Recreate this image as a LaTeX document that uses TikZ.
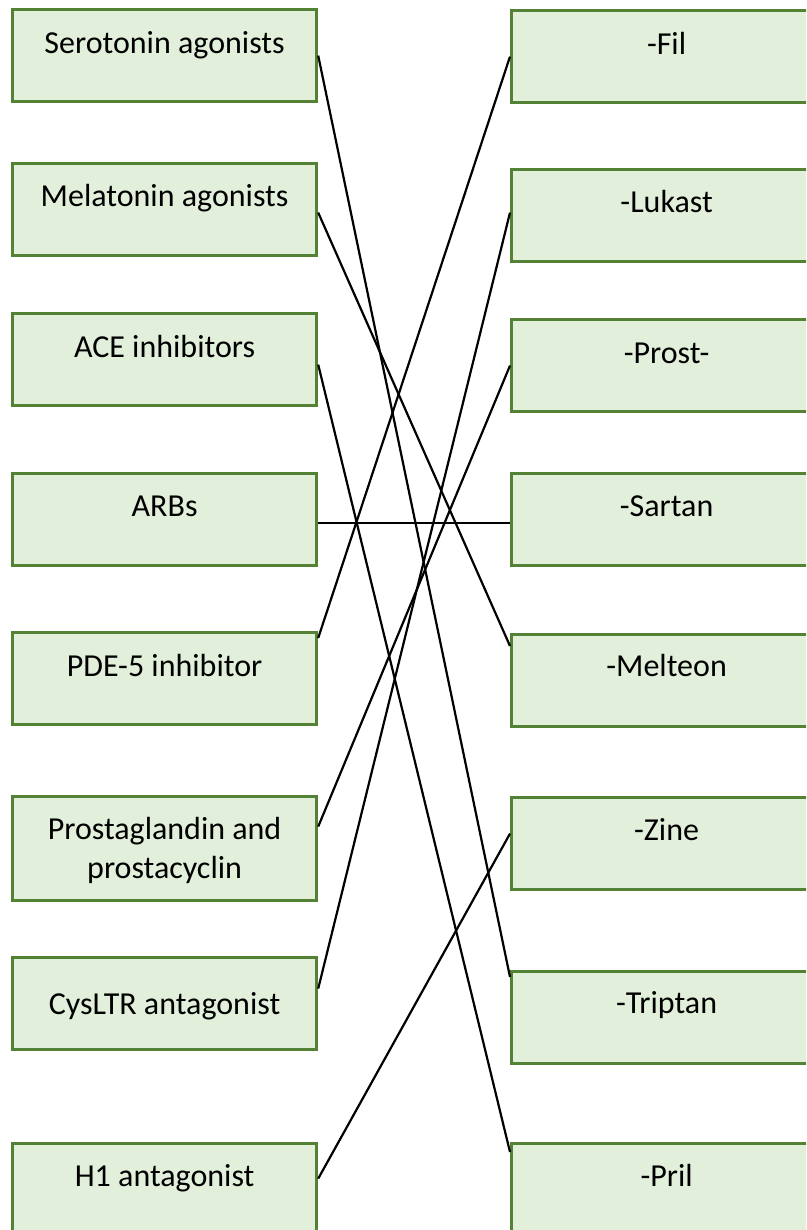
\documentclass[tikz,border=0pt]{standalone}
\usepackage{fontspec}
\setmainfont{Carlito}
\usepackage{xcolor}
\definecolor{boxfill}{RGB}{226,239,218}
\definecolor{boxline}{RGB}{84,130,53}
\tikzset{
	drug/.style={rectangle,draw=boxline,fill=boxfill,line width=3.2pt,minimum width=304pt,minimum height=92pt,anchor=north west,inner sep=0pt},
	stem/.style={drug,minimum width=310pt},
	lbl/.style={anchor=base,inner sep=0pt,font=\fontsize{32}{39}\selectfont,align=center},
	link/.style={line width=2.2pt,black}
}

\begin{document}
\begin{tikzpicture}[x=1pt,y=-1pt]
				\clip (0,0) rectangle (806,1230);
				\node(ser) at (11,8)[drug]{};
				\node(mel) at (11,162)[drug]{};
				\node(ace) at (11,312)[drug]{};
				\node(arb) at (11,472)[drug]{};
				\node(pde) at (11,631)[drug]{};
				\node(pgl) at (11,795)[drug,minimum height=104pt]{};
				\node(cys) at (11,956)[drug]{};
				\node(hist) at (11,1142)[drug]{};
				\node(fil) at (510,9)[stem]{};
				\node(luk) at (510,168)[stem]{};
				\node(pro) at (510,318)[stem]{};
				\node(sar) at (510,472)[stem]{};
				\node(mlt) at (510,633)[stem]{};
				\node(zin) at (510,796)[stem]{};
				\node(tri) at (510,970)[stem]{};
				\node(pri) at (510,1142)[stem]{};
				
				\node(sert) at ([yshift=-46pt]ser.north)[lbl]{Serotonin agonists};
				\node(melt) at ([yshift=-45pt]mel.north)[lbl]{Melatonin agonists};
				\node(acet) at ([yshift=-45pt]ace.north)[lbl]{ACE inhibitors};
				\node(arbt) at ([yshift=-44pt]arb.north)[lbl]{ARBs};
				\node(pdet) at ([yshift=-45pt]pde.north)[lbl]{PDE-5 inhibitor};
				\node(pglt) at ([yshift=-83pt]pgl.north)[lbl]{Prostaglandin and\\prostacyclin};
				\node(cyst) at ([yshift=-58pt]cys.north)[lbl]{CysLTR antagonist};
				\node(histt) at ([yshift=-44pt]hist.north)[lbl]{H1 antagonist};
				\node(filt) at ([yshift=-46pt]fil.north)[lbl]{-Fil};
				\node(lukt) at ([yshift=-45pt]luk.north)[lbl]{-Lukast};
				\node(prot) at ([yshift=-45pt]pro.north)[lbl]{-Prost-};
				\node(sart) at ([yshift=-44pt]sar.north)[lbl]{-Sartan};
				\node(mltt) at ([yshift=-43pt]mlt.north)[lbl]{-Melteon};
				\node(zint) at ([yshift=-44pt]zin.north)[lbl]{-Zine};
				\node(trit) at ([yshift=-43pt]tri.north)[lbl]{-Triptan};
				\node(prit) at ([yshift=-44pt]pri.north)[lbl]{-Pril};
				
				\draw[link] (ser.east) -- ([yshift=-7pt]tri.north west);
				\draw[link] ([yshift=-3pt]mel.east) -- ([yshift=-13pt]mlt.north west);
				\draw[link] ([yshift=-5pt]ace.east) -- ([yshift=-10pt]pri.north west);
				\draw[link] ([yshift=-3pt]arb.east) -- ([yshift=-3pt]sar.west);
				\draw[link] ([yshift=-7pt]pde.north east) -- (fil.west);
				\draw[link] ([yshift=22pt]pgl.east) -- (pro.west);
				\draw[link] ([yshift=15pt]cys.east) -- ([yshift=3pt]luk.west);
				\draw[link] ([yshift=11pt]hist.east) -- ([yshift=10pt]zin.west);
			\end{tikzpicture}
\end{document}
